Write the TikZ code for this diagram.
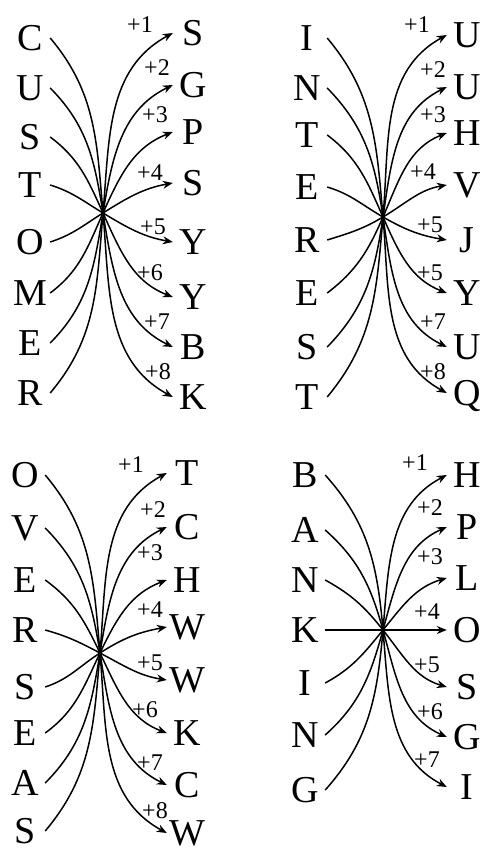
\documentclass[tikz,border=0pt]{standalone}
\usepackage{fontspec}
\setmainfont{Liberation Serif}
\usetikzlibrary{arrows.meta}
\newdimen\fanxa \newdimen\fanya \newdimen\fanxb \newdimen\fanyb
\newcommand\fanlinks[2]{%
  \foreach \k in {1,...,#2}{%
    \pgfmathtruncatemacro\fanm{#2+1-\k}%
    \pgfextractx{\fanxa}{\pgfpointanchor{#1-l\fanm}{east}}%
    \pgfextracty{\fanya}{\pgfpointanchor{#1-l\fanm}{east}}%
    \pgfextractx{\fanxb}{\pgfpointanchor{#1-r\k}{west}}%
    \pgfextracty{\fanyb}{\pgfpointanchor{#1-r\k}{west}}%
    \pgfmathsetmacro\fanth{atan2(\fanyb-\fanya,\fanxb-\fanxa)}%
    \pgfmathsetmacro\fantha{0.7*\fanth}%
    \pgfmathsetmacro\fanthc{max(-85,min(85,1.25*\fanth))}%
    \pgfmathsetmacro\fanthi{\fanthc+180}%
    \pgfmathsetmacro\fanthd{0.4*\fanth+180}%
    \draw[arr] (#1-l\fanm.east) to[out=\fantha,in=\fanthi] (#1-c) to[out=\fanthc,in=\fanthd] (#1-r\k.west);
  }}
\begin{document}
\begin{tikzpicture}[x=1pt,y=1pt,
  letter/.style={font=\fontsize{38}{38}\selectfont, minimum width=40pt, inner sep=0pt, text height=25.2pt, text depth=0pt},
  lab/.style={font=\fontsize{24}{24}\selectfont, inner sep=0pt},
  arr/.style={line width=1.5pt, -{Stealth[length=10pt,width=8pt]}}]
\fill[white] (0,0) rectangle (485,-856);
\useasboundingbox (0,0) rectangle (485,-856);
% ---- CUSTOMER
\coordinate (a-c) at (103,-213);
\foreach \t/\y [count=\k] in {C/38,U/88,S/137,T/185,O/242,M/293,E/343,R/393}
  \node[letter] (a-l\k) at (30,-\y) {\t};
\foreach \t/\y [count=\k] in {S/33,G/85,P/132,S/183,Y/242,Y/297,B/347,K/397}
  \node[letter] (a-r\k) at (193,-\y) {\t};
\foreach \t/\x/\y [count=\k] in {1/140/25,2/157/68,3/155/115,4/150/173,5/153/227,6/150/273,7/157/322,8/158/372}
  \node[lab] (a-t\k) at (\x,-\y) {+\t};
\fanlinks{a}{8}
% ---- INTEREST
\coordinate (b-c) at (383,-217);
\foreach \t/\y [count=\k] in {I/38,N/88,T/135,E/187,R/240,E/293,S/347,T/397}
  \node[letter] (b-l\k) at (307,-\y) {\t};
\foreach \t/\y [count=\k] in {U/35,U/87,H/133,V/185,J/240,Y/293,U/347,Q/393}
  \node[letter] (b-r\k) at (467,-\y) {\t};
\foreach \t/\x/\y [count=\k] in {1/417/25,2/433/70,3/433/115,4/423/172,5/430/225,5/430/273,7/433/322,8/433/372}
  \node[lab] (b-t\k) at (\x,-\y) {+\t};
\fanlinks{b}{8}
% ---- OVERSEAS
\coordinate (c-c) at (100,-653);
\foreach \t/\y [count=\k] in {O/475,V/528,E/580,R/630,S/687,E/733,A/783,S/831}
  \node[letter] (c-l\k) at (25,-\y) {\t};
\foreach \t/\y [count=\k] in {T/473,C/527,H/580,W/627,W/680,K/733,C/785,W/833}
  \node[letter] (c-r\k) at (187,-\y) {\t};
\foreach \t/\x/\y [count=\k] in {1/131/465,2/153/510,3/150/553,4/150/610,5/150/663,6/145/710,7/150/763,8/155/811}
  \node[lab] (c-t\k) at (\x,-\y) {+\t};
\fanlinks{c}{8}
% ---- BANKING
\coordinate (d-c) at (383,-630);
\foreach \t/\y [count=\k] in {B/475,A/530,N/580,K/630,I/683,N/735,G/790}
  \node[letter] (d-l\k) at (305,-\y) {\t};
\foreach \t/\y [count=\k] in {H/475,P/527,L/578,O/630,S/687,G/737,I/787}
  \node[letter] (d-r\k) at (467,-\y) {\t};
\foreach \t/\x/\y [count=\k] in {1/415/463,2/430/508,3/430/557,4/427/612,5/427/665,6/430/712,7/427/760}
  \node[lab] (d-t\k) at (\x,-\y) {+\t};
\fanlinks{d}{7}
\end{tikzpicture}
\end{document}
